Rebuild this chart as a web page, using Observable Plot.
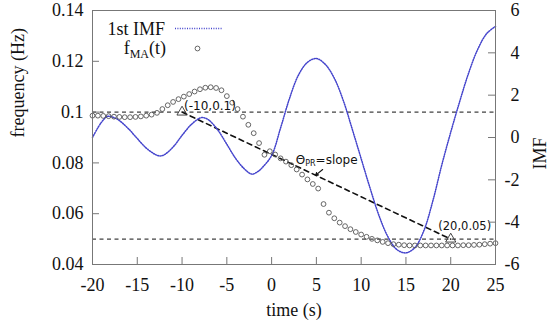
<!DOCTYPE html>
<html><head><meta charset="utf-8">
<script src="https://cdn.jsdelivr.net/npm/d3@7"></script>
<script src="https://cdn.jsdelivr.net/npm/@observablehq/plot@0.6"></script>
<style>body{margin:0;background:#fff}svg{display:block}</style>
</head><body><div id="chart"></div>
<script>
// 1st IMF (right axis, IMF units)
const imfTime  = [-20,-19,-18.3,-17.5,-17,-16,-15,-14,-13,-12.5,-12,-11,-10,-9,-8,-7.6,-7,-6,-5,-4,-3,-2.2,-1.5,-1,0,1,2,3,4,5,6,7,8,9,10,11,12,13,14,15,16,17,18,19,20,21,22,23,24,25];
const imfValue = [0.0,0.72,1.0,0.92,0.8,0.42,-0.05,-0.5,-0.8,-0.87,-0.82,-0.45,0.1,0.6,0.92,0.94,0.82,0.35,-0.32,-1.0,-1.5,-1.73,-1.6,-1.4,-0.85,0.45,1.85,2.95,3.55,3.73,3.45,2.8,1.75,0.4,-1.0,-2.4,-3.7,-4.7,-5.3,-5.45,-5.2,-4.4,-3.0,-1.3,0.25,1.7,3.05,4.15,4.9,5.25];
// f_MA(t) (left axis, Hz)
const maTime = [-20,-19.4,-18.8,-18.2,-17.6,-17,-16.4,-15.8,-15.2,-14.6,-14,-13.4,-12.8,-12.2,-11.6,-11,-10.4,-9.8,-9.2,-8.6,-8,-7.4,-6.8,-6.2,-5.6,-5,-4.4,-3.8,-3.2,-2.6,-2,-1.4,-0.8,-0.2,0.4,1,1.6,2.2,2.8,3.4,4,4.6,5.2,5.8,6.4,7,7.6,8.2,8.8,9.4,10,10.6,11.2,11.8,12.4,13,13.6,14.2,14.8,15.4,16,16.6,17.2,17.8,18.4,19,19.6,20.2,20.8,21.4,22,22.6,23.2,23.8,24.4,25];
const maFreq = [0.0986,0.0986,0.0985,0.0984,0.0982,0.0981,0.0980,0.0980,0.0981,0.0983,0.0986,0.0990,0.0997,0.1012,0.1027,0.1040,0.1051,0.1061,0.1071,0.1081,0.1090,0.1096,0.1098,0.1095,0.1086,0.1063,0.1037,0.1012,0.0982,0.0950,0.0917,0.0878,0.0832,0.0846,0.0833,0.0818,0.0805,0.0791,0.0774,0.0754,0.0735,0.0717,0.0699,0.0638,0.0604,0.0582,0.0565,0.0551,0.0539,0.0528,0.0518,0.0509,0.0501,0.0495,0.0489,0.0484,0.0480,0.0478,0.0476,0.0475,0.0475,0.0475,0.0475,0.0475,0.0475,0.0475,0.0475,0.0475,0.0475,0.0476,0.0476,0.0477,0.0478,0.0480,0.0482,0.0484];

const xTicks = [-20,-15,-10,-5,0,5,10,15,20,25];
const yTicks = [0.04,0.06,0.08,0.1,0.12,0.14];
const y2Ticks = [-6,-4,-2,0,2,4,6];
const refLevels = [0.1, 0.05];
const slopeT = [-10, 20];
const slopeF = [0.1, 0.05];
const slopeLabels = ["(-10,0.1)", "(20,0.05)"];
const slopeNote = {t: 2.75, f: 0.0809, parts: ["\u0398", "PR", "=slope"]};
const arrowFrom = {t: 5.7, f: 0.0774};
const arrowTo = {t: 4.9, f: 0.0751};
const legendNames = ["1st IMF", ["f", "MA", "(t)"]];

const y2toY = d3.scaleLinear([-6, 6], [0.04, 0.14]);
const imfData = imfTime.map((t, i) => ({t, f: y2toY(imfValue[i])}));
const maData = maTime.map((t, i) => ({t, f: maFreq[i]}));
const slopeData = slopeT.map((t, i) => ({t, f: slopeF[i], label: slopeLabels[i]}));

const W = 549, H = 327, ML = 92, MR = 54, MT = 10, MB = 63;
const PW = W - ML - MR, PH = H - MT - MB;
const blue = "#4444cc";
const ink = "#111";
const serif = "Liberation Serif, serif";
const sans = "DejaVu Sans, sans-serif";

const note = (index, scales) => {
  const x = scales.x(slopeNote.t), y = scales.y(slopeNote.f);
  const t = d3.create("svg:text").attr("x", x).attr("y", y).attr("dy", "0.35em")
    .attr("text-anchor", "start")
    .attr("font-family", sans).attr("font-size", 12).attr("fill", ink);
  t.append("tspan").text(slopeNote.parts[0]);
  t.append("tspan").attr("font-size", 8).attr("dy", 2).text(slopeNote.parts[1]);
  t.append("tspan").attr("dy", -2).text(slopeNote.parts[2]);
  return t.node();
};

const legend = (index, scales, values, dims) => {
  const g = d3.create("svg:g").attr("font-family", serif).attr("font-size", 18).attr("fill", ink);
  const x0 = dims.marginLeft;
  const y0 = dims.marginTop;
  g.append("text").attr("x", x0 + 73).attr("y", y0 + 25).attr("text-anchor", "end").text(legendNames[0]);
  g.append("line").attr("x1", x0 + 83).attr("x2", x0 + 130).attr("y1", y0 + 18.5).attr("y2", y0 + 18.5)
    .attr("stroke", blue).attr("stroke-width", 1.5).attr("stroke-dasharray", "1,1.4");
  const t2 = g.append("text").attr("x", x0 + 74).attr("y", y0 + 44).attr("text-anchor", "end");
  t2.append("tspan").text(legendNames[1][0]);
  t2.append("tspan").attr("font-size", 12).attr("dy", 4).text(legendNames[1][1]);
  t2.append("tspan").attr("dy", -4).text(legendNames[1][2]);
  g.append("circle").attr("cx", x0 + 105.5).attr("cy", y0 + 38.5).attr("r", 2.4)
    .attr("fill", "none").attr("stroke", "#555").attr("stroke-width", 0.9);
  return g.node();
};

const chart = Plot.plot({
  width: W, height: H,
  marginLeft: ML, marginRight: MR, marginTop: MT, marginBottom: MB,
  style: {fontFamily: serif, fontSize: "18px", color: ink, background: "#fff"},
  x: {domain: [-20, 25]},
  y: {domain: [0.04, 0.14]},
  marks: [
    Plot.ruleY(refLevels, {stroke: ink, strokeWidth: 1, strokeDasharray: "4,3.5"}),
    Plot.line(slopeData, {x: "t", y: "f", stroke: ink, strokeWidth: 1.6, strokeDasharray: "5,4"}),
    Plot.line(imfData, {x: "t", y: "f", stroke: blue, strokeWidth: 1.5, strokeDasharray: "1,1.4", curve: "catmull-rom"}),
    Plot.dot(maData, {x: "t", y: "f", r: 2.4, stroke: "#555", strokeWidth: 0.9, fill: "none"}),
    Plot.dot(slopeData, {x: "t", y: "f", symbol: "triangle", r: 3.8, stroke: "#333", strokeWidth: 0.9, fill: "none"}),
    Plot.text(slopeData.slice(0, 1), {x: "t", y: "f", text: "label", textAnchor: "start", dx: 2, dy: -6, fontFamily: sans, fontSize: 12, fill: ink}),
    Plot.text(slopeData.slice(1), {x: "t", y: "f", text: "label", textAnchor: "middle", dx: 14, dy: -13, fontFamily: sans, fontSize: 11.5, fill: ink}),
    note,
    Plot.arrow([{}], {x1: () => arrowFrom.t, y1: () => arrowFrom.f, x2: () => arrowTo.t, y2: () => arrowTo.f, stroke: ink, strokeWidth: 1.1, headLength: 6}),
    Plot.ruleX(xTicks, {stroke: "#777", insetTop: PH - 7}),
    Plot.ruleY(yTicks, {stroke: "#777", insetRight: PW - 7}),
    Plot.ruleY(y2Ticks.map(y2toY), {stroke: "#777", insetLeft: PW - 7}),
    Plot.frame({stroke: "#777"}),
    Plot.axisX(xTicks, {tickSize: 0, tickPadding: 14, label: null, tickFormat: d => String(d)}),
    Plot.axisY(yTicks, {tickSize: 0, tickPadding: 9, label: null, tickFormat: d => String(d)}),
    Plot.axisY(y2Ticks.map(y2toY), {anchor: "right", tickSize: 0, tickPadding: 24, textAnchor: "end", label: null,
      tickFormat: d => String(Math.round(y2toY.invert(d)))}),
    Plot.text(["frequency (Hz)"], {frameAnchor: "left", dx: -74, rotate: -90, fontSize: 18, fill: ink}),
    Plot.text(["IMF"], {frameAnchor: "right", dx: 45, rotate: -90, fontSize: 18, fill: ink}),
    Plot.text(["time (s)"], {frameAnchor: "bottom", dy: 51, fontSize: 18, fill: ink}),
    legend
  ]
});
document.getElementById("chart").append(chart);
</script>
</body></html>
